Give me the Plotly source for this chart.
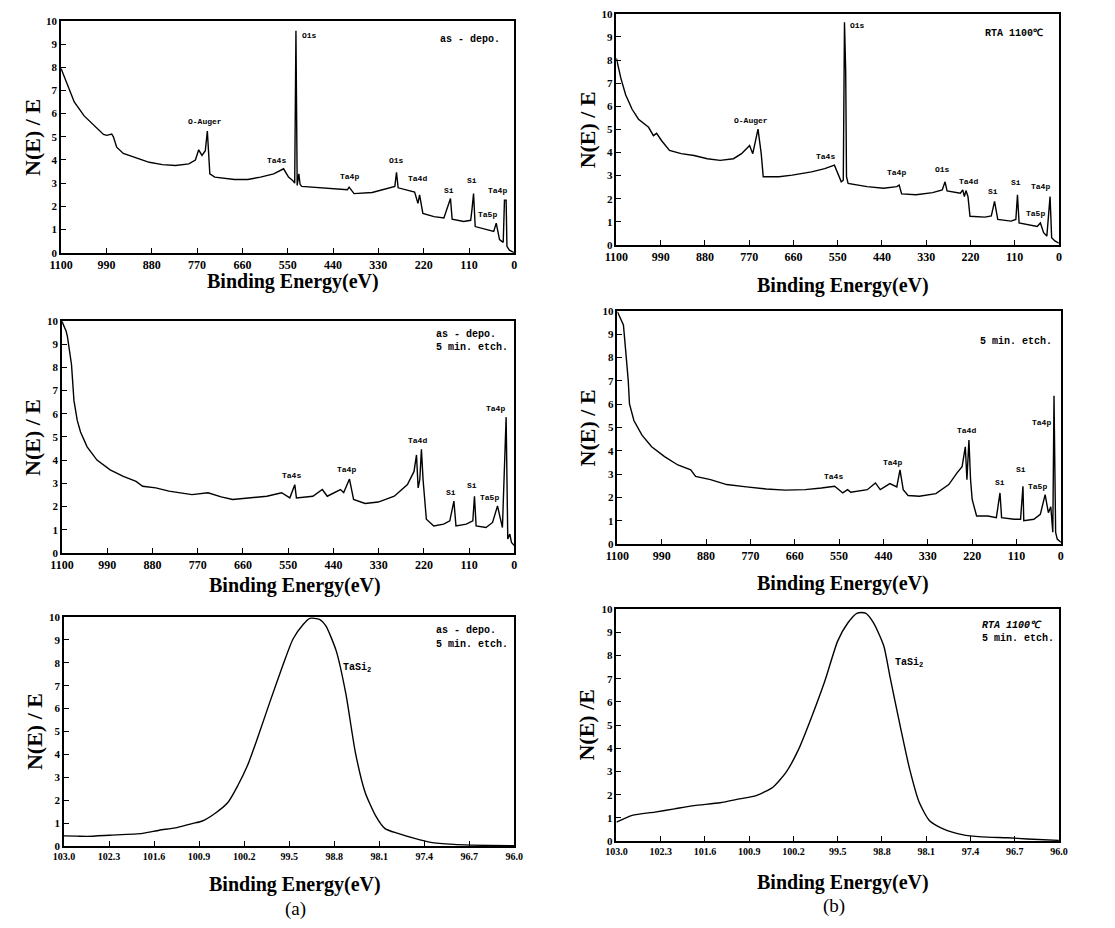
import plotly.graph_objects as go

W, H = 1115, 928

# ---------------- data ----------------
# (a) as-deposited survey
be_tl = [1100, 1084, 1068, 1044, 1021, 997, 989, 977, 973, 965, 949, 917, 886, 854, 822, 790, 774, 766, 758,
         750, 745, 739, 727, 679, 647, 616, 584, 560, 548, 538, 533, 530, 527, 523, 520, 516, 465, 425, 405,
         401, 389, 345, 306, 290, 286, 282, 242, 238, 234, 230, 226, 222, 195, 171, 155, 151, 123, 106, 103,
         99, 95, 68, 50, 44, 36, 27, 24, 20, 18, 12, 0]
int_tl = [7.94, 7.2, 6.5, 5.9, 5.5, 5.1, 5.06, 5.12, 5.0, 4.55, 4.28, 4.1, 3.9, 3.8, 3.76, 3.83, 4.0, 4.44, 4.2,
          4.4, 5.25, 3.4, 3.26, 3.16, 3.16, 3.26, 3.4, 3.62, 3.26, 3.12, 3.0, 9.57, 2.9, 3.4, 2.95, 2.86, 2.81,
          2.74, 2.72, 2.83, 2.55, 2.6, 2.77, 2.86, 3.47, 2.8, 2.62, 2.41, 2.13, 2.5, 2.13, 1.7, 1.56, 1.5,
          2.34, 1.45, 1.35, 1.4, 1.84, 2.55, 1.13, 0.99, 0.92, 1.28, 0.57, 0.45, 2.27, 2.27, 0.28, 0.11, 0.0]

# (b) RTA 1100C survey
be_tr = [1100, 1089, 1077, 1061, 1045, 1020, 1008, 1000, 988, 968, 939, 907, 874, 842, 809, 789, 781, 769, 761,
         748, 740, 735, 696, 663, 615, 582, 558, 550, 541, 536, 533, 530, 528, 524, 477, 436, 403, 397, 391,
         355, 314, 290, 283, 278, 245, 239, 235, 231, 226, 221, 184, 168, 160, 152, 119, 107, 103, 99, 71,
         54, 46, 38, 30, 22, 18, 10, 0]
int_tr = [8.08, 7.22, 6.5, 5.87, 5.44, 5.09, 4.73, 4.83, 4.52, 4.09, 3.95, 3.87, 3.73, 3.66, 3.73, 3.95, 4.09,
          4.3, 3.95, 5.01, 3.95, 2.95, 2.95, 3.02, 3.16, 3.3, 3.45, 3.09, 2.73, 2.8, 9.64, 7.5, 2.95, 2.66,
          2.52, 2.45, 2.52, 2.59, 2.21, 2.17, 2.26, 2.38, 2.73, 2.34, 2.24, 2.38, 2.09, 2.35, 2.09, 1.24, 1.2,
          1.25, 1.88, 1.1, 1.03, 1.1, 2.17, 0.95, 0.84, 0.8, 0.95, 0.53, 0.38, 2.09, 0.31, 0.17, 0.07]

# (a) as-deposited, 5 min etch survey
be_ml = [1100, 1090, 1087, 1083, 1077, 1071, 1063, 1055, 1039, 1015, 983, 951, 920, 904, 872, 840, 784, 745,
         713, 685, 649, 602, 566, 546, 534, 530, 490, 467, 455, 423, 415, 401, 391, 363, 331, 292, 260, 244,
         238, 234, 230, 226, 222, 214, 196, 172, 157, 147, 142, 117, 101, 97, 93, 69, 53, 41, 29, 24, 20, 16,
         11, 7, 0]
int_ml = [9.97, 9.55, 9.33, 8.84, 8.12, 6.56, 5.71, 5.21, 4.57, 4.0, 3.58, 3.3, 3.08, 2.87, 2.8, 2.66, 2.51,
          2.59, 2.41, 2.3, 2.37, 2.44, 2.59, 2.37, 2.94, 2.37, 2.44, 2.73, 2.44, 2.73, 2.6, 3.18, 2.3, 2.13,
          2.19, 2.44, 2.94, 3.51, 4.22, 2.8, 3.15, 4.46, 3.15, 1.45, 1.16, 1.24, 1.38, 2.23, 1.16, 1.24, 1.38,
          2.44, 1.16, 1.09, 1.31, 2.02, 1.09, 3.3, 5.85, 0.6, 0.81, 0.45, 0.31]

# (b) 5 min etch survey
be_mr = [1100, 1092, 1085, 1080, 1073, 1070, 1059, 1039, 1015, 983, 950, 918, 906, 869, 829, 780, 731, 683,
         634, 594, 561, 541, 529, 521, 480, 460, 448, 424, 407, 399, 391, 379, 351, 310, 278, 258, 245, 237,
         233, 228, 224, 220, 209, 181, 160, 151, 147, 116, 100, 94, 92, 67, 51, 39, 31, 25, 20, 17, 13, 9, 0]
int_mr = [9.97, 9.62, 9.4, 8.42, 7.0, 6.01, 5.3, 4.67, 4.17, 3.75, 3.39, 3.18, 2.9, 2.76, 2.55, 2.45, 2.36,
          2.31, 2.33, 2.4, 2.48, 2.19, 2.33, 2.22, 2.33, 2.62, 2.33, 2.59, 2.45, 3.18, 2.33, 2.08, 2.05, 2.16,
          2.55, 3.04, 3.32, 4.17, 2.76, 4.46, 2.76, 1.91, 1.2, 1.2, 1.13, 2.19, 1.13, 1.06, 1.06, 2.48, 1.0,
          1.06, 1.27, 2.12, 1.34, 1.6, 0.5, 6.36, 0.5, 0.21, 0.07]

# (a) Si 2p region (TaSi2)
be_bl = [103.0, 102.8, 102.64, 102.29, 101.78, 101.52, 101.27, 101.01, 100.86, 100.66, 100.45, 100.30, 100.15,
         100.0, 99.79, 99.59, 99.44, 99.28, 99.18, 99.03, 98.93, 98.77, 98.62, 98.47, 98.32, 98.16, 98.01,
         97.81, 97.55, 97.30, 96.94, 96.69, 96.0]
int_bl = [0.44, 0.43, 0.42, 0.47, 0.55, 0.69, 0.79, 0.98, 1.08, 1.41, 1.91, 2.63, 3.5, 4.65, 6.37, 7.96, 9.04,
          9.68, 9.94, 9.9, 9.61, 8.53, 6.66, 4.07, 2.35, 1.34, 0.76, 0.55, 0.33, 0.16, 0.07, 0.04, 0.01]

# (b) Si 2p region (TaSi2)
be_br = [103.0, 102.75, 102.39, 102.08, 101.77, 101.36, 101.05, 100.79, 100.53, 100.32, 100.12, 99.91, 99.70,
         99.50, 99.34, 99.19, 99.06, 98.93, 98.77, 98.67, 98.52, 98.36, 98.21, 98.05, 97.84, 97.53, 97.22,
         96.81, 96.50, 96.0]
int_br = [0.82, 1.11, 1.25, 1.39, 1.53, 1.65, 1.82, 1.96, 2.31, 2.95, 3.94, 5.36, 6.92, 8.62, 9.4, 9.83, 9.83,
          9.4, 8.41, 7.06, 5.08, 3.09, 1.67, 0.89, 0.54, 0.28, 0.18, 0.14, 0.09, 0.03]

survey_ticks = [1100, 990, 880, 770, 660, 550, 440, 330, 220, 110, 0]
narrow_ticks = [103.0, 102.3, 101.6, 100.9, 100.2, 99.5, 98.8, 98.1, 97.4, 96.7, 96.0]
narrow_ticklabels = ["103.0", "102.3", "101.6", "100.9", "100.2", "99.5", "98.8", "98.1", "97.4", "96.7", "96.0"]
y_ticks = [0, 1, 2, 3, 4, 5, 6, 7, 8, 9, 10]

# peak labels: (text, BE, intensity)
labels_tl = [("O-Auger", 750, 5.67), ("Ta4s", 577, 3.97), ("Ta4p", 401, 3.3), ("O1s", 286, 3.97),
             ("Ta4d", 234, 3.19), ("Si", 159, 2.7), ("Si", 103, 3.1), ("Ta4p", 40, 2.67), ("Ta5p", 64, 1.63)]
labels_tr = [("O-Auger", 765, 5.4), ("Ta4s", 580, 3.83), ("Ta4p", 403, 3.12), ("O1s", 290, 3.26),
             ("Ta4d", 225, 2.73), ("Si", 164, 2.31), ("Si", 107, 2.69), ("Ta4p", 46, 2.52), ("Ta5p", 58, 1.35)]
labels_ml = [("Ta4s", 542, 3.32), ("Ta4p", 407, 3.6), ("Ta4d", 236, 4.83), ("Si", 153, 2.59), ("Si", 103, 2.9),
             ("Ta5p", 61, 2.37), ("Ta4p", 45, 6.24)]
labels_mr = [("Ta4s", 565, 2.9), ("Ta4p", 418, 3.49), ("Ta4d", 233, 4.85), ("Si", 152, 2.64), ("Si", 100, 3.18),
             ("Ta5p", 59, 2.45), ("Ta4p", 47, 5.23)]

# ---------------- figure ----------------
def px(x):
    return x / W

def py(y):
    return 1 - y / H

# plot boxes in pixels: (left, right, top, bottom)
boxes = [(50, 512, 15, 250), (616, 1067, 8, 242),
         (51, 512, 319, 554), (617, 1069, 309, 545),
         (53, 512, 619, 851), (616, 1067, 611, 846)]

series = [(be_tl, int_tl, "linear"), (be_tr, int_tr, "linear"),
          (be_ml, int_ml, "linear"), (be_mr, int_mr, "linear"),
          (be_bl, int_bl, "spline"), (be_br, int_br, "spline")]

fig = go.Figure()
layout = dict(width=W, height=H, margin=dict(l=0, r=0, t=0, b=0),
              paper_bgcolor="white", plot_bgcolor="white", showlegend=False)

serif = "Liberation Serif, Times New Roman, serif"
mono = "Liberation Mono, Courier New, monospace"

for i, ((l, r, t, b), (xs, ys, shape)) in enumerate(zip(boxes, series)):
    n = "" if i == 0 else str(i + 1)
    xa, ya = "x" + n, "y" + n
    line = dict(color="black", width=1.4, shape=shape)
    if shape == "spline":
        line["smoothing"] = 0.6
    fig.add_trace(go.Scatter(x=xs, y=ys, mode="lines", line=line, xaxis=xa, yaxis=ya,
                             hoverinfo="skip"))
    survey = i < 4
    xaxis = dict(domain=[px(l), px(r)], anchor=ya,
                 range=[1100, 0] if survey else [103.0, 96.0],
                 tickmode="array",
                 tickvals=survey_ticks if survey else narrow_ticks,
                 ticktext=[str(v) for v in survey_ticks] if survey else narrow_ticklabels,
                 ticks="inside", ticklen=5, tickwidth=1.3, tickcolor="black",
                 showline=True, mirror=True, linecolor="black", linewidth=1.5,
                 showgrid=False, zeroline=False,
                 tickfont=dict(family=serif, size=12 if survey else 10, color="black", weight="bold"))
    yaxis = dict(domain=[py(b), py(t)], anchor=xa, range=[0, 10],
                 tickmode="array", tickvals=y_ticks,
                 ticks="inside", ticklen=5, tickwidth=1.3, tickcolor="black",
                 showline=True, mirror=True, linecolor="black", linewidth=1.5,
                 showgrid=False, zeroline=False,
                 tickfont=dict(family=serif, size=11, color="black", weight="bold"))
    layout["xaxis" + n] = xaxis
    layout["yaxis" + n] = yaxis

fig.update_layout(**layout)

ann = []

def add_paper(text, x, y, size, family=serif, bold=True, angle=0):
    ann.append(dict(text=text, x=px(x), y=py(y), xref="paper", yref="paper", showarrow=False,
                    xanchor="center", yanchor="middle", textangle=angle,
                    font=dict(family=family, size=size, color="black", weight="bold" if bold else "normal")))

# axis titles
for (x, y) in [(286, 279), (847, 283), (288, 587), (847, 585), (288, 890), (847, 888)]:
    add_paper("Binding Energy(eV)", x, y, 20)
for (x, y), t in zip([(21, 133), (586, 125), (21, 437), (587, 427), (23, 735), (586, 728)],
                     ["N(E) / E", "N(E) / E", "N(E) / E", "N(E) / E", "N(E) / E", "N(E) /E"]):
    add_paper(t, x, y, 22, angle=-90)
add_paper("(a)", 289, 915, 19, bold=False)
add_paper("(b)", 838, 912, 19, bold=False)

def add_data(text, x, y, axis_idx, size=8, xanchor="center"):
    n = "" if axis_idx == 0 else str(axis_idx + 1)
    ann.append(dict(text=text, x=x, y=y, xref="x" + n, yref="y" + n, showarrow=False,
                    xanchor=xanchor, yanchor="middle",
                    font=dict(family=mono, size=size, color="black", weight="bold")))

for idx, labs in [(0, labels_tl), (1, labels_tr), (2, labels_ml), (3, labels_mr)]:
    for t, x, y in labs:
        add_data(t, x, y, idx)

# O1s main peak labels
add_data("O1s", 520, 9.36, 0, xanchor="left")
add_data("O1s", 524, 9.5, 1, xanchor="left")

# sample condition notes
add_data("as - depo.", 107, 9.2, 0, size=10)
add_data("RTA 1100\u2103", 111, 9.15, 1, size=10)
add_data("as - depo.", 196, 9.43, 2, size=10, xanchor="left")
add_data("5 min. etch.", 196, 8.84, 2, size=10, xanchor="left")
add_data("5 min. etch.", 112, 8.67, 3, size=10)
add_data("as - depo.", 97.25, 9.4, 4, size=10, xanchor="left")
add_data("5 min. etch.", 97.25, 8.78, 4, size=10, xanchor="left")
add_data("<i>RTA 1100\u2103</i>", 97.25, 9.3, 5, size=10, xanchor="left")
add_data("5 min. etch.", 97.25, 8.72, 5, size=10, xanchor="left")
add_data("TaSi<sub>2</sub>", 98.7, 7.76, 4, size=10, xanchor="left")
add_data("TaSi<sub>2</sub>", 98.62, 7.66, 5, size=10, xanchor="left")

fig.update_layout(annotations=ann)
fig.write_html("out.html")
